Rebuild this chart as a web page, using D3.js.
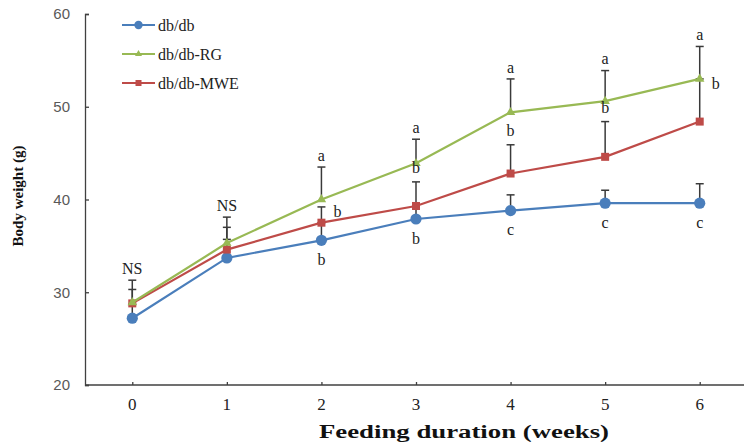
<!DOCTYPE html>
<html>
<head>
<meta charset="utf-8">
<script src="https://cdn.jsdelivr.net/npm/d3@7/dist/d3.min.js"></script>
<style>
  body { margin: 0; background: #fff; }
  svg { display: block; }
</style>
</head>
<body>
<script>
// body weight of db/db mice
var WEEKS = [0, 1, 2, 3, 4, 5, 6];
var SERIES_NAMES = ["db/db", "db/db-RG", "db/db-MWE"];
var DB_MEAN  = [27.2, 33.7, 35.6, 37.9, 38.8, 39.6, 39.6];
var RG_MEAN  = [28.9, 35.3, 40.0, 43.9, 49.4, 50.6, 53.0];
var MWE_MEAN = [28.8, 34.6, 37.5, 39.3, 42.8, 44.6, 48.4];
// upper error bars (SD)
var DB_ERR  = [1.5, 2.0, 1.9, 1.4, 1.7, 1.4, 2.1];
var RG_ERR  = [2.4, 2.8, 3.5, 2.6, 3.6, 3.3, 3.5];
var MWE_ERR = [1.5, 2.4, 1.7, 2.6, 3.1, 3.8, 4.6];
var Y_TICKS = [20, 30, 40, 50, 60];
// significance letters: series index + where it goes
var SIG_LABELS = [
    { week: 0, text: "NS", series: 1, place: "top" },
    { week: 1, text: "NS", series: 1, place: "top" },
    { week: 2, text: "a", series: 1, place: "top" },
    { week: 2, text: "b", series: 2, place: "right" },
    { week: 2, text: "b", series: 0, place: "below" },
    { week: 3, text: "a", series: 1, place: "top" },
    { week: 3, text: "b", series: 2, place: "top" },
    { week: 3, text: "b", series: 0, place: "below" },
    { week: 4, text: "a", series: 1, place: "top" },
    { week: 4, text: "b", series: 2, place: "top" },
    { week: 4, text: "c", series: 0, place: "below" },
    { week: 5, text: "a", series: 1, place: "top" },
    { week: 5, text: "b", series: 2, place: "top" },
    { week: 5, text: "c", series: 0, place: "below" },
    { week: 6, text: "a", series: 1, place: "top" },
    { week: 6, text: "b", series: 2, place: "right" },
    { week: 6, text: "c", series: 0, place: "below" }
];

var W = 744, H = 443;
var COLORS = ["#4A7EBB", "#98B954", "#BE4B48"];
var SERIF = "'Liberation Serif', 'Times New Roman', serif";

var means = [DB_MEAN, RG_MEAN, MWE_MEAN];
var errs = [DB_ERR, RG_ERR, MWE_ERR];
var series = SERIES_NAMES.map(function(name, i) {
    return {
        name: name, idx: i,
        points: WEEKS.map(function(w, j) { return { week: w, v: means[i][j], e: errs[i][j] }; })
    };
});

var x = d3.scalePoint().domain(WEEKS).range([85, 747]).padding(0.5);
var y = d3.scaleLinear().domain([20, 60]).range([385, 14]);

var svg = d3.select("body").append("svg")
    .attr("width", W)
    .attr("height", H);

// axes, ticks pointing inwards like the excel original
var yAxis = svg.append("g")
    .attr("transform", "translate(85,0)")
    .call(d3.axisRight(y).tickValues(Y_TICKS).tickSize(4).tickFormat(""));
var xAxis = svg.append("g")
    .attr("transform", "translate(0,385)")
    .call(d3.axisTop(x).tickSize(3).tickFormat(""));
xAxis.select(".domain").attr("d", "M85,0H744");
[yAxis, xAxis].forEach(function(a) {
    a.selectAll("path, line").attr("stroke", "#404040").attr("stroke-width", 1.3);
});

svg.append("g").selectAll("text")
    .data(Y_TICKS)
    .enter().append("text")
    .attr("x", 70)
    .attr("y", function(d) { return y(d); })
    .attr("dy", "0.35em")
    .attr("text-anchor", "end")
    .style("font-family", "'Liberation Sans', Arial, sans-serif")
    .style("font-size", "15px")
    .style("fill", "#595959")
    .text(function(d) { return d; });

svg.append("g").selectAll("text")
    .data(WEEKS)
    .enter().append("text")
    .attr("x", function(d) { return x(d); })
    .attr("y", 404)
    .attr("dy", "0.35em")
    .attr("text-anchor", "middle")
    .style("font-family", SERIF)
    .style("font-size", "17px")
    .style("fill", "#222")
    .text(function(d) { return d; });

svg.append("text")
    .attr("x", 464)
    .attr("y", 438)
    .attr("text-anchor", "middle")
    .attr("textLength", 290)
    .attr("lengthAdjust", "spacingAndGlyphs")
    .style("font-family", SERIF)
    .style("font-weight", "bold")
    .style("font-size", "18px")
    .style("fill", "#111")
    .text("Feeding duration (weeks)");

svg.append("text")
    .attr("transform", "translate(18,196) rotate(-90)")
    .attr("dy", "0.35em")
    .attr("text-anchor", "middle")
    .style("font-family", SERIF)
    .style("font-weight", "bold")
    .style("font-size", "15px")
    .style("fill", "#111")
    .text("Body weight (g)");

// error bars (upper only), drawn under the lines
var errG = svg.append("g");
series.forEach(function(s) {
    var g = errG.selectAll(".err" + s.idx)
        .data(s.points)
        .enter().append("g");
    g.append("line")
        .attr("x1", function(d) { return x(d.week); })
        .attr("x2", function(d) { return x(d.week); })
        .attr("y1", function(d) { return y(d.v); })
        .attr("y2", function(d) { return y(d.v + d.e); });
    g.append("line")
        .attr("x1", function(d) { return x(d.week) - 4; })
        .attr("x2", function(d) { return x(d.week) + 4; })
        .attr("y1", function(d) { return y(d.v + d.e); })
        .attr("y2", function(d) { return y(d.v + d.e); });
});
errG.selectAll("line").attr("stroke", "#3a3a3a").attr("stroke-width", 1.5);

var line = d3.line()
    .x(function(d) { return x(d.week); })
    .y(function(d) { return y(d.v); });

function drawMarker(sel, idx, size) {
    if (idx === 0) {
        sel.append("circle").attr("r", size * 0.7).attr("fill", COLORS[0]);
    } else if (idx === 1) {
        sel.append("path").attr("d", d3.symbol().type(d3.symbolTriangle).size(size * size * 0.6)).attr("fill", COLORS[1]);
    } else {
        sel.append("rect").attr("x", -size / 2).attr("y", -size / 2)
            .attr("width", size).attr("height", size).attr("fill", COLORS[2]);
    }
}

// draw order: blue, red, green (green on top)
[0, 2, 1].forEach(function(i) {
    var s = series[i];
    svg.append("path")
        .datum(s.points)
        .attr("fill", "none")
        .attr("stroke", COLORS[i])
        .attr("stroke-width", 2.2)
        .attr("d", line);
    svg.append("g").selectAll("g")
        .data(s.points)
        .enter().append("g")
        .attr("transform", function(d) { return "translate(" + x(d.week) + "," + y(d.v) + ")"; })
        .each(function() { drawMarker(d3.select(this), i, 8); });
});

// significance letters
svg.append("g").selectAll("text")
    .data(SIG_LABELS)
    .enter().append("text")
    .attr("x", function(d) {
        return d.place === "right" ? x(d.week) + 16 : x(d.week);
    })
    .attr("y", function(d) {
        var j = WEEKS.indexOf(d.week);
        var top = y(means[d.series][j] + errs[d.series][j]);
        if (d.place === "top") return top - (d.series === 1 ? 12 : 14);
        if (d.place === "right") return top + 4;
        return y(means[d.series][j]) + 19;
    })
    .attr("dy", "0.35em")
    .attr("text-anchor", "middle")
    .style("font-family", SERIF)
    .style("font-size", "16px")
    .style("fill", "#222")
    .text(function(d) { return d.text; });

// legend
var legend = svg.append("g").selectAll("g")
    .data(series)
    .enter().append("g")
    .attr("transform", function(d, i) { return "translate(122," + (25 + i * 29) + ")"; });
legend.append("line")
    .attr("x1", 0).attr("x2", 33)
    .attr("stroke", function(d) { return COLORS[d.idx]; })
    .attr("stroke-width", 2.2);
legend.append("g")
    .attr("transform", "translate(16.5,0)")
    .each(function(d) { drawMarker(d3.select(this), d.idx, 6); });
legend.append("text")
    .attr("x", 36)
    .attr("dy", "0.35em")
    .style("font-family", SERIF)
    .style("font-size", "16px")
    .style("fill", "#222")
    .text(function(d) { return d.name; });
</script>
</body>
</html>
